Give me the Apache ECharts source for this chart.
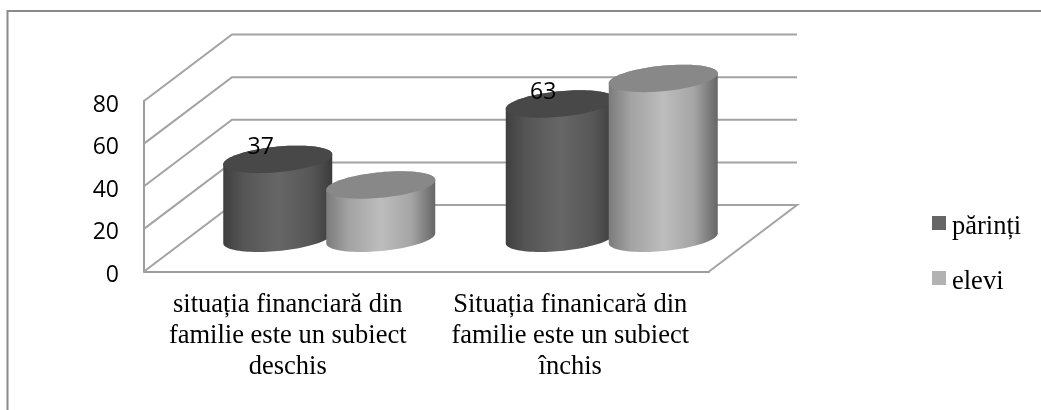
<!DOCTYPE html>
<html>
<head>
<meta charset="utf-8">
<style>html,body{margin:0;padding:0;background:#fff}#c{width:1041px;height:410px}</style>
<script src="https://cdn.jsdelivr.net/npm/echarts@6/dist/echarts.min.js"></script>
</head>
<body>
<div id="c"></div>
<script>
const categories = [
  "situația financiară din\nfamilie este un subiect\ndeschis",
  "Situația finanicară din\nfamilie este un subiect\nînchis"
];
const parinti = [37, 63];
const elevi = [25, 75];
const wallTicks = [0, 20, 40, 60, 80];

const DEPTH_X = 88, DEPTH_Y = 66.5;
const BAR_OFFSET = 51.5, RX = 54.5, RY = 12.8, TILT = 5;
const AXIS_COLOR = '#9c9c9c', WALL_COLOR = '#a3a3a3';

function ellipsePoint(cx, cy, t) {
  return [cx + RX * Math.cos(t), cy - RY * Math.sin(t) - TILT * Math.cos(t)];
}
function ellipse(cx, cy) {
  const pts = [];
  for (let i = 0; i < 96; i++) pts.push(ellipsePoint(cx, cy, i / 96 * Math.PI * 2));
  return pts;
}
function sideBody(cx, topY, baseY) {
  const pts = [];
  for (let i = 0; i <= 48; i++) pts.push(ellipsePoint(cx, baseY, Math.PI + i / 48 * Math.PI));
  for (let i = 0; i <= 48; i++) pts.push(ellipsePoint(cx, topY, i / 48 * Math.PI));
  return pts;
}
function cylinderRender(sign, stops, topColor, withLabel) {
  return function (params, api) {
    const base = api.coord([api.value(0), 0]);
    const top = api.coord([api.value(0), api.value(1)]);
    const cx = base[0] + DEPTH_X / 2 + sign * BAR_OFFSET;
    const baseY = base[1] - DEPTH_Y / 2;
    const topY = top[1] - DEPTH_Y / 2;
    const children = [
      { type: 'polygon', shape: { points: sideBody(cx, topY, baseY) },
        style: { fill: new echarts.graphic.LinearGradient(0, 0, 1, 0, stops) } },
      { type: 'polygon', shape: { points: ellipse(cx, topY) }, style: { fill: topColor } }
    ];
    if (withLabel) {
      children.push({ type: 'text', x: cx - 17, y: topY - 11.5,
        style: { text: String(api.value(1)), fill: '#000', font: '23px "Open Sans"', align: 'center', verticalAlign: 'middle' } });
    }
    return { type: 'group', children };
  };
}
function wallRender(params, api) {
  const v = api.value(0);
  const y = api.coord([0, v])[1];
  const sys = params.coordSys;
  const x0 = sys.x, x1 = sys.x + sys.width;
  const pts = [[x0, y], [x0 + DEPTH_X, y - DEPTH_Y], [x1 + DEPTH_X, y - DEPTH_Y]];
  if (v === 0) pts.push([x1, y]);
  return { type: 'polyline', shape: { points: pts }, style: { stroke: WALL_COLOR, lineWidth: 2, fill: 'none' } };
}

const chart = echarts.init(document.getElementById('c'), null, { renderer: 'canvas' });
chart.setOption({
  animation: false,
  backgroundColor: '#fff',
  grid: { left: 144, right: 332, top: 101, bottom: 138.5 },
  legend: {
    orient: 'vertical', left: 932, top: 214, padding: 0, itemWidth: 14, itemHeight: 14, itemGap: 28,
    icon: 'rect', selectedMode: false,
    data: ['părinți', 'elevi'],
    formatter: '{a|{name}}',
    textStyle: { rich: { a: { fontFamily: 'Liberation Serif', fontSize: 26.5, lineHeight: 36, color: '#000', verticalAlign: 'bottom', padding: [0, 0, 0, 1] } } }
  },
  xAxis: {
    type: 'category', data: categories,
    axisTick: { show: false },
    axisLine: { lineStyle: { color: AXIS_COLOR, width: 2 } },
    axisLabel: { interval: 0, margin: 18, color: '#000', fontFamily: 'Liberation Serif', fontSize: 26.5, lineHeight: 31, padding: [0, 0, 0, 5] }
  },
  yAxis: {
    type: 'value', min: 0, max: 80, interval: 20,
    splitLine: { show: false },
    axisTick: { show: false },
    axisLine: { show: true, lineStyle: { color: AXIS_COLOR, width: 2 } },
    axisLabel: { margin: 25, formatter: '{a|{value}}',
      rich: { a: { color: '#000', fontFamily: 'Open Sans', fontSize: 23, lineHeight: 31, verticalAlign: 'bottom' } } }
  },
  graphic: [{
    type: 'polyline', silent: true, z: 0,
    shape: { points: [[7.5, 410], [7.5, 11], [1041, 11]] },
    style: { stroke: '#8a8a8a', lineWidth: 2, fill: 'none' }
  }],
  series: [
    { type: 'custom', name: 'walls', z: 1, data: wallTicks.map(v => [v]), encode: { y: 0 }, renderItem: wallRender, silent: true },
    { type: 'custom', name: 'părinți', z: 2, itemStyle: { color: '#666666' },
      data: parinti.map((v, i) => [i, v]), encode: { x: 0, y: 1 },
      renderItem: cylinderRender(-1, [
        { offset: 0, color: '#3f3f3f' }, { offset: 0.18, color: '#555555' }, { offset: 0.5, color: '#666666' },
        { offset: 0.8, color: '#575757' }, { offset: 1, color: '#3c3c3c' }], '#484848', true) },
    { type: 'custom', name: 'elevi', z: 3, itemStyle: { color: '#b2b2b2' },
      data: elevi.map((v, i) => [i, v]), encode: { x: 0, y: 1 },
      renderItem: cylinderRender(1, [
        { offset: 0, color: '#7b7b7b' }, { offset: 0.2, color: '#a2a2a2' }, { offset: 0.5, color: '#bdbdbd' },
        { offset: 0.78, color: '#a5a5a5' }, { offset: 1, color: '#666666' }], '#888888', false) }
  ]
});
</script>
</body>
</html>
